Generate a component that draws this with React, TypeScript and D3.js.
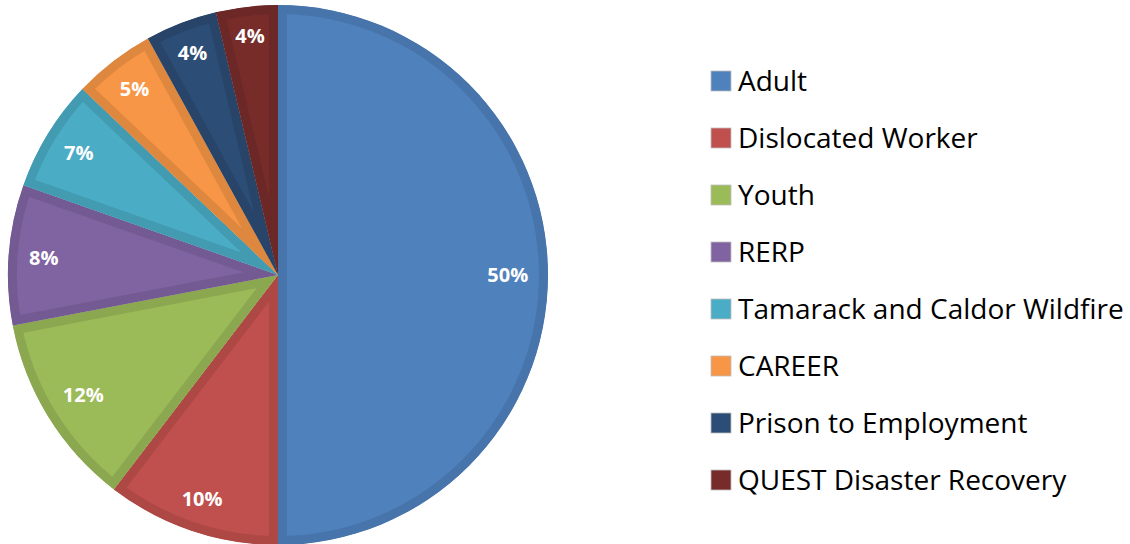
import React from 'react';
import * as d3 from 'd3';

const categories = [
  'Adult',
  'Dislocated Worker',
  'Youth',
  'RERP',
  'Tamarack and Caldor Wildfire',
  'CAREER',
  'Prison to Employment',
  'QUEST Disaster Recovery',
];
const values = [50, 10.4, 11.6, 8.4, 6.7, 4.9, 4.3, 3.7];
const colors = ['#4F81BD', '#C0504D', '#9BBB59', '#8064A2', '#4BACC6', '#F79646', '#2C4D75', '#772C2A'];

const W = 1130;
const H = 544;
const cx = 278;
const cy = 275;
const R = 270;

function labelWidth(s: string, fs: number) {
  let w = 0;
  for (const ch of s) w += ch === '%' ? 0.876 : 0.572;
  return w * fs;
}

export default function App() {
  const total = d3.sum(values);
  const pie = d3.pie<number>().sort(null).value((d) => d);
  const arcs = pie(values);
  const arc = d3.arc<d3.PieArcDatum<number>>().innerRadius(0).outerRadius(R);
  const labelFs = 20;
  const labelH = 15;

  return (
    <svg width={W} height={H} style={{ position: 'absolute', left: 0, top: 0, display: 'block' }}>
      <defs>
        {arcs.map((a, i) => (
          <clipPath id={`slice-clip-${i}`} key={i}>
            <path d={arc(a) || ''} />
          </clipPath>
        ))}
      </defs>
      <g transform={`translate(${cx},${cy})`}>
        {arcs.map((a, i) => {
          const border = d3.color(colors[i])!.darker(0.3).formatHex();
          return (
            <path
              key={i}
              d={arc(a) || ''}
              fill={colors[i]}
              stroke={border}
              strokeWidth={18}
              strokeLinejoin="miter"
              clipPath={`url(#slice-clip-${i})`}
            />
          );
        })}
        {arcs.map((a, i) => {
          const txt = Math.round((values[i] / total) * 100) + '%';
          const ang = (a.startAngle + a.endAngle) / 2;
          const ux = Math.sin(ang);
          const uy = -Math.cos(ang);
          const w = labelWidth(txt, labelFs);
          const he = Math.abs(ux) * (w / 2) + Math.abs(uy) * (labelH / 2);
          const r = 250 - he;
          return (
            <text
              key={i}
              x={ux * r}
              y={uy * r}
              dy="0.36em"
              textAnchor="middle"
              fill="#FFFFFF"
              fontFamily="'Open Sans', sans-serif"
              fontWeight={700}
              fontSize={labelFs}
            >
              {txt}
            </text>
          );
        })}
      </g>
      <g>
        {categories.map((c, i) => {
          const yc = 81 + i * 57;
          return (
            <g key={c}>
              <rect
                x={711}
                y={yc - 10}
                width={20}
                height={20}
                fill={colors[i]}
                stroke="#BFBFBF"
                strokeWidth={0.8}
              />
              <text
                x={738}
                y={yc}
                dy="0.36em"
                fill="#000000"
                fontFamily="'Open Sans', sans-serif"
                fontSize={28}
              >
                {c}
              </text>
            </g>
          );
        })}
      </g>
    </svg>
  );
}
